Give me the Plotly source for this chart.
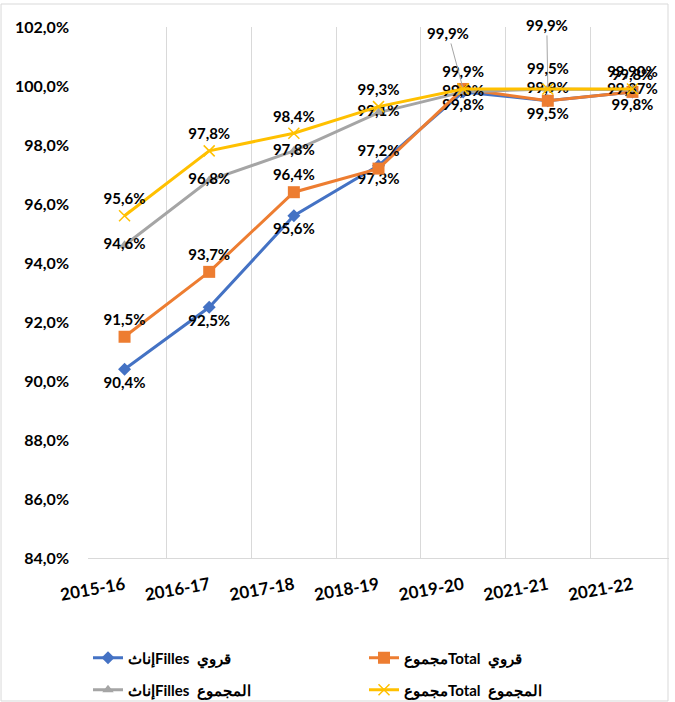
import plotly.graph_objects as go

years = ["2015-16", "2016-17", "2017-18", "2018-19", "2019-20", "2021-21", "2021-22"]

rural_girls = [90.4, 92.5, 95.6, 97.3, 99.8, 99.5, 99.8]
rural_total = [91.5, 93.7, 96.4, 97.2, 99.9, 99.5, 99.8]
all_girls = [94.6, 96.8, 97.8, 99.1, 99.8, 99.9, 99.87]
all_total = [95.6, 97.8, 98.4, 99.3, 99.9, 99.9, 99.9]

rural_girls_lbl = ["90,4%", "92,5%", "95,6%", "97,3%", "99,8%", "99,5%", "99,8%"]
rural_total_lbl = ["91,5%", "93,7%", "96,4%", "97,2%", "99,9%", "", "99,8%"]
all_girls_lbl = ["94,6%", "96,8%", "97,8%", "99,1%", "99,8%", "99,9%", "99,87%"]
all_total_lbl = ["95,6%", "97,8%", "98,4%", "99,3%", "", "", "99,90%"]
# labels moved away with leader lines (index, text, dx, dy)
all_total_moved = [(4, "99,9%", -15, -56), (5, "99,9%", -1, -64)]
# label lifted higher than usual (index, text, yshift)
rural_total_moved = [(5, "99,5%", 33)]

names = ["إناثFilles  قروي", "مجموعTotal  قروي", "إناثFilles  المجموع", "مجموعTotal  المجموع"]

FONT = "Lato"
lblfont = dict(family=FONT, size=15, color="black", weight="bold")

fig = go.Figure()
fig.add_trace(go.Scatter(
    x=years, y=rural_girls, name=names[0], mode="lines+markers+text",
    line=dict(color="#4472C4", width=3),
    marker=dict(symbol="diamond", size=10, color="#4472C4"),
    text=rural_girls_lbl, textposition="bottom center", textfont=lblfont,
    legend="legend"))
fig.add_trace(go.Scatter(
    x=years, y=rural_total, name=names[1], mode="lines+markers+text",
    line=dict(color="#ED7D31", width=3),
    marker=dict(symbol="square", size=12, color="#ED7D31"),
    text=rural_total_lbl, textposition="top center", textfont=lblfont,
    legend="legend"))
fig.add_trace(go.Scatter(
    x=years, y=all_girls, name=names[2], mode="lines+markers+text",
    line=dict(color="#A5A5A5", width=3),
    marker=dict(symbol="triangle-up", size=10, color="#A5A5A5"),
    text=all_girls_lbl, textposition="middle center", textfont=lblfont,
    legend="legend2"))
fig.add_trace(go.Scatter(
    x=years, y=all_total, name=names[3], mode="lines+markers+text",
    line=dict(color="#FFC000", width=3),
    marker=dict(symbol="x-thin", size=11, color="#FFC000",
                line=dict(color="#FFC000", width=1.5)),
    text=all_total_lbl, textposition="top center", textfont=lblfont,
    legend="legend2"))

for i, t, dx, dy in all_total_moved:
    fig.add_annotation(x=years[i], y=all_total[i], text=t, showarrow=True,
                       arrowhead=0, arrowwidth=1, arrowcolor="#A5A5A5",
                       ax=dx, ay=dy, font=lblfont, standoff=2)
for i, t, ys in rural_total_moved:
    fig.add_annotation(x=years[i], y=rural_total[i], text=t, showarrow=False,
                       yshift=ys, font=lblfont)

# chart area frame
fig.add_shape(type="rect", xref="paper", yref="paper",
              x0=-0.1497, x1=0.9983, y0=-0.2693, y1=1.0433,
              line=dict(color="#d9d9d9", width=1), layer="below")

legfont = dict(family=FONT, size=15, color="black", weight="bold")
fig.update_layout(
    width=675, height=702,
    margin=dict(l=88, r=6, t=27, b=144),
    paper_bgcolor="white", plot_bgcolor="white",
    separators=", ",
    showlegend=True,
    legend=dict(orientation="h", x=0.0, xanchor="left", yref="container",
                y=0.0627, yanchor="middle",
                entrywidth=231, font=legfont, bgcolor="rgba(0,0,0,0)"),
    legend2=dict(orientation="h", x=0.0, xanchor="left", yref="container",
                 y=0.0171, yanchor="middle",
                 entrywidth=231, font=legfont, bgcolor="rgba(0,0,0,0)"),
    xaxis=dict(type="category", tickson="boundaries", showgrid=True,
               gridcolor="#d9d9d9", gridwidth=1, showline=True, linecolor="#d9d9d9",
               ticks="", tickangle=-10, ticklabelstandoff=10, automargin=False,
               tickfont=dict(family=FONT, size=17, color="black", weight="bold"),
               zeroline=False),
    yaxis=dict(range=[84, 102], dtick=2, tick0=84, tickformat=".1f", ticksuffix="%",
               showgrid=False, showline=False, zeroline=False, ticks="",
               ticklabelstandoff=18, automargin=False,
               tickfont=dict(family=FONT, size=16, color="black", weight="bold")),
)

fig.write_html("out.html", config={"displayModeBar": False},
               post_script="document.body.style.margin='0';")
